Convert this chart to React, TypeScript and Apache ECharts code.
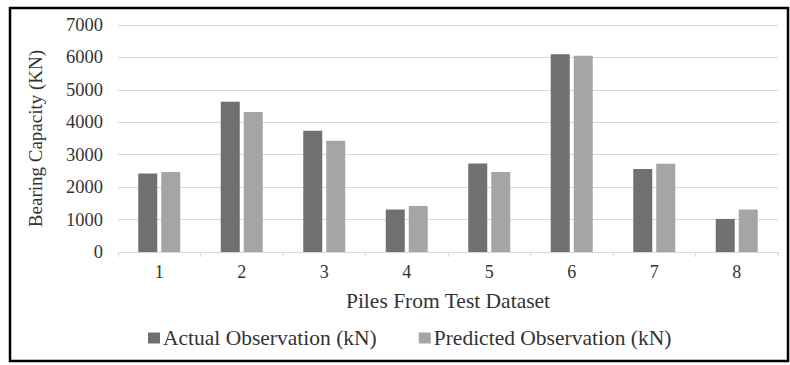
import React, { useEffect, useRef } from "react";
import * as echarts from "echarts";

const categories = ["1", "2", "3", "4", "5", "6", "7", "8"];
const actualValues = [2420, 4630, 3740, 1310, 2730, 6100, 2560, 1020];
const predictedValues = [2470, 4320, 3430, 1420, 2470, 6050, 2720, 1310];
const seriesNames = ["Actual Observation (kN)", "Predicted Observation (kN)"];

const FONT = "Liberation Serif";

export default function App() {
  const ref = useRef<HTMLDivElement>(null);
  useEffect(() => {
    if (!ref.current) return;
    const chart = echarts.init(ref.current, null, { renderer: "svg" });
    chart.setOption({
      animation: false,
      backgroundColor: "#ffffff",
      textStyle: { fontFamily: FONT },
      grid: { left: 118, right: 12, top: 25, bottom: 113, containLabel: false },
      legend: {
        data: seriesNames,
        left: 143,
        top: 322,
        itemWidth: 12,
        itemHeight: 11,
        itemGap: 42,
        icon: "rect",
        textStyle: { fontFamily: FONT, fontSize: 21.5, color: "#333333", padding: [0, 0, 0, -2] },
      },
      xAxis: {
        type: "category",
        data: categories,
        axisLine: { lineStyle: { color: "#d9d9d9", width: 1 } },
        axisTick: { show: true, length: 5, lineStyle: { color: "#d9d9d9" } },
        axisLabel: { fontFamily: FONT, fontSize: 18, color: "#333333", margin: 11 },
        name: "Piles From Test Dataset",
        nameLocation: "middle",
        nameGap: 38,
        nameTextStyle: { fontFamily: FONT, fontSize: 21.5, color: "#333333" },
      },
      yAxis: {
        type: "value",
        min: 0,
        max: 7000,
        interval: 1000,
        axisLine: { show: false },
        axisTick: { show: false },
        splitLine: { lineStyle: { color: "#d9d9d9", width: 1 } },
        axisLabel: {
          fontFamily: FONT,
          fontSize: 18.5,
          color: "#333333",
          margin: 15,
          formatter: (v: number) => String(v),
        },
        name: "Bearing Capacity (KN)",
        nameLocation: "middle",
        nameGap: 73,
        nameTextStyle: { fontFamily: FONT, fontSize: 19, color: "#333333" },
      },
      series: [
        {
          name: seriesNames[0],
          type: "bar",
          data: actualValues,
          barWidth: 19,
          barGap: "21%",
          itemStyle: { color: "#707070" },
        },
        {
          name: seriesNames[1],
          type: "bar",
          data: predictedValues,
          barWidth: 19,
          itemStyle: { color: "#a5a5a5" },
        },
      ],
      graphic: [
        {
          type: "rect",
          shape: { x: 10, y: 8, width: 778, height: 353 },
          style: { fill: "none", stroke: "#000000", lineWidth: 2.5 },
          silent: true,
        },
      ],
    });
    return () => chart.dispose();
  }, []);
  return (
    <div
      ref={ref}
      style={{ position: "fixed", left: 0, top: 0, width: 790, height: 365 }}
    />
  );
}
